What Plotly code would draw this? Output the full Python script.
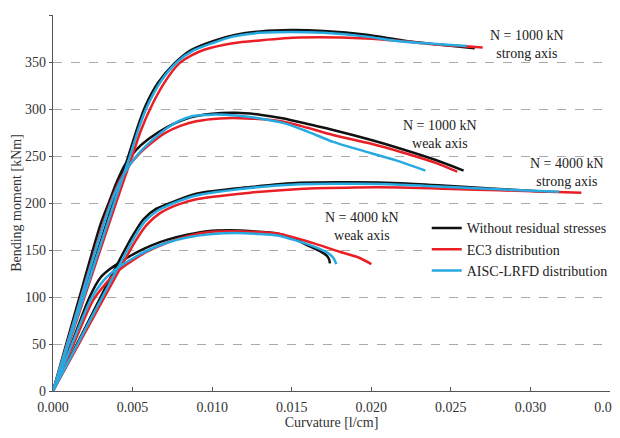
import plotly.graph_objects as go

# ---- data (curvature [1/cm], bending moment [kNm]) ----
series_names = ["Without residual stresses", "EC3 distribution", "AISC-LRFD distribution"]
series_colors = ["#111111", "#ea1f26", "#27a9e1"]

# N = 1000 kN strong axis
s1_black_x = [0, 0.0020, 0.0040, 0.0047, 0.0053, 0.0058, 0.0066, 0.0076, 0.0086, 0.0100, 0.0115, 0.0130, 0.0150, 0.0170, 0.0197, 0.0220, 0.0245, 0.0265]
s1_black_y = [0, 106, 212, 248, 280, 303, 328, 348, 362, 372, 379, 382.5, 384, 383, 379, 373, 368, 364.5]
s1_red_x = [0, 0.0020, 0.0040, 0.0049, 0.0055, 0.0061, 0.0070, 0.0079, 0.0087, 0.0095, 0.0113, 0.0130, 0.0155, 0.0197, 0.0220, 0.0245, 0.0270]
s1_red_y = [0, 101, 202, 246, 276, 300, 328, 348, 357, 363, 370, 373, 376, 375, 372, 368, 365.5]
s1_blue_x = [0, 0.0020, 0.0040, 0.0048, 0.0054, 0.0059, 0.0068, 0.0078, 0.0088, 0.0100, 0.0113, 0.0130, 0.0150, 0.0170, 0.0197, 0.0218, 0.0260]
s1_blue_y = [0, 104, 208, 248, 280, 302, 330, 350, 362, 370, 377, 381, 382, 381, 377, 372, 367]

# N = 1000 kN weak axis
w1_black_x = [0, 0.0015, 0.0030, 0.0035, 0.0040, 0.0045, 0.0052, 0.0060, 0.0072, 0.0086, 0.0100, 0.0115, 0.0130, 0.0145, 0.0160, 0.0176, 0.0200, 0.0218, 0.0240, 0.0258]
w1_black_y = [0, 90, 178, 200, 222, 240, 256, 268, 281, 291, 295, 296, 294, 290, 284, 277.7, 267, 258, 246, 234.5]
w1_red_x = [0, 0.0015, 0.0030, 0.0036, 0.0042, 0.0047, 0.0054, 0.0062, 0.0070, 0.0080, 0.0090, 0.0105, 0.0122, 0.0145, 0.0160, 0.0176, 0.0200, 0.0218, 0.0240, 0.0254]
w1_red_y = [0, 85, 170, 200, 224, 238, 252, 264, 274, 282, 287, 290, 290, 286.5, 280, 272.3, 263, 254.6, 243, 233.3]
w1_blue_x = [0, 0.0015, 0.0030, 0.0036, 0.0042, 0.0048, 0.0055, 0.0063, 0.0072, 0.0080, 0.0088, 0.0100, 0.0115, 0.0130, 0.0145, 0.0160, 0.0176, 0.0200, 0.0218, 0.0234]
w1_blue_y = [0, 84, 168, 198, 222, 240, 255, 268, 280, 288, 292.5, 294, 293, 290, 285, 276, 265, 253, 244, 234.4]

# N = 4000 kN strong axis
s4_black_x = [0, 0.0021, 0.0042, 0.0050, 0.0057, 0.0065, 0.0075, 0.0090, 0.0124, 0.0155, 0.0190, 0.0218, 0.0250, 0.0280, 0.0310]
s4_black_y = [0, 70, 140, 165, 183, 194, 201, 210, 217, 221.5, 222, 221, 218, 215, 212]
s4_red_x = [0, 0.0022, 0.0044, 0.0052, 0.0059, 0.0067, 0.0078, 0.0090, 0.0124, 0.0155, 0.0190, 0.0218, 0.0250, 0.0280, 0.0332]
s4_red_y = [0, 68, 136, 160, 177, 189, 198, 204, 211, 215, 216.5, 216.5, 215, 213.5, 211]
s4_blue_x = [0, 0.0021, 0.0043, 0.0051, 0.0058, 0.0066, 0.0076, 0.0090, 0.0124, 0.0155, 0.0190, 0.0218, 0.0250, 0.0280, 0.0318]
s4_blue_y = [0, 68, 138, 163, 181, 192, 200, 208, 216, 220, 220.5, 219.5, 217, 214.5, 212]

# N = 4000 kN weak axis
w4_black_x = [0, 0.0012, 0.0023, 0.0030, 0.0036, 0.0044, 0.0052, 0.0062, 0.0072, 0.0085, 0.0097, 0.0111, 0.0125, 0.0141, 0.0152, 0.0161, 0.0168, 0.0172, 0.01735, 0.0174]
w4_black_y = [0, 52, 100, 121, 130, 139, 147, 155, 161, 166.5, 170, 171, 170, 167.5, 161.5, 154, 148.5, 144, 140, 135.8]
w4_red_x = [0, 0.0013, 0.0025, 0.0033, 0.0041, 0.0050, 0.0060, 0.0072, 0.0085, 0.0100, 0.0115, 0.0130, 0.0141, 0.0152, 0.0165, 0.0180, 0.0192, 0.0200]
w4_red_y = [0, 50, 96, 114, 128, 139, 149, 158, 165, 169.5, 170, 169, 167.5, 163, 156.5, 148.2, 142, 135]
w4_blue_x = [0, 0.0012, 0.0024, 0.0032, 0.0040, 0.0050, 0.0060, 0.0072, 0.0085, 0.0100, 0.0115, 0.0130, 0.0141, 0.0152, 0.0164, 0.0172, 0.0176, 0.0178]
w4_blue_y = [0, 50, 98, 118, 130, 141, 150, 158, 163.5, 167, 168, 167, 165.5, 160.5, 153.5, 147.5, 142, 135]

curve_groups = [
    [(s1_black_x, s1_black_y), (s1_red_x, s1_red_y), (s1_blue_x, s1_blue_y)],
    [(w1_black_x, w1_black_y), (w1_red_x, w1_red_y), (w1_blue_x, w1_blue_y)],
    [(s4_black_x, s4_black_y), (s4_red_x, s4_red_y), (s4_blue_x, s4_blue_y)],
    [(w4_black_x, w4_black_y), (w4_red_x, w4_red_y), (w4_blue_x, w4_blue_y)],
]

labels = ["N = 1000 kN<br>strong axis", "N = 1000 kN<br>weak axis",
          "N = 4000 kN<br>strong axis", "N = 4000 kN<br>weak axis"]
label_x = [0.0298, 0.0243, 0.0323, 0.0194]
label_y = [369, 273, 232, 175]

x_ticks = [0, 0.005, 0.010, 0.015, 0.020, 0.025, 0.030, 0.035]
x_tick_text = ["0.000", "0.005", "0.010", "0.015", "0.020", "0.025", "0.030", "0.035"]
y_ticks = [0, 50, 100, 150, 200, 250, 300, 350, 400]

FONT = "Liberation Serif"

fig = go.Figure()
for si in range(3):
    for gi, grp in enumerate(curve_groups):
        xs, ys = grp[si]
        fig.add_trace(go.Scatter(
            x=xs, y=ys, mode="lines",
            line=dict(color=series_colors[si], width=2.5, shape="spline", smoothing=0.8),
            name=series_names[si], legendgroup=series_names[si], showlegend=(gi == 0),
        ))

for t, ax, ay in zip(labels, label_x, label_y):
    fig.add_annotation(x=ax, y=ay, text=t, showarrow=False,
                       font=dict(family=FONT, size=14, color="#222"), align="center")

fig.update_layout(
    width=640, height=422,
    margin=dict(l=45, r=38, t=7, b=39),
    paper_bgcolor="white", plot_bgcolor="white",
    font=dict(family=FONT, size=14, color="#333"),
    legend=dict(x=0.671, y=0.475, xanchor="left", yanchor="top",
                bgcolor="rgba(255,255,255,1)", font=dict(family=FONT, size=14, color="#222"),
                itemwidth=30, tracegroupgap=0),
    showlegend=True,
)
fig.update_xaxes(range=[0, 0.035], tickvals=x_ticks, ticktext=x_tick_text, automargin=False,
                 showgrid=False, zeroline=False, showline=True, linecolor="#555", linewidth=1.2,
                 ticks="inside", ticklen=4, tickcolor="#555", ticklabelstandoff=3,
                 title=dict(text="Curvature [l/cm]", font=dict(family=FONT, size=14, color="#333"), standoff=8),
                 tickfont=dict(family=FONT, size=14, color="#333"))
fig.update_yaxes(range=[0, 400], tickvals=y_ticks, automargin=False,
                 showgrid=True, gridcolor="#aaaaaa", griddash="dash", gridwidth=1,
                 zeroline=False, showline=True, linecolor="#555", linewidth=1.2,
                 ticks="outside", ticklen=3, tickcolor="#555",
                 title=dict(text="Bending moment [kNm]", font=dict(family=FONT, size=14, color="#333"), standoff=0),
                 tickfont=dict(family=FONT, size=14, color="#333"))

fig.write_html("out.html")
